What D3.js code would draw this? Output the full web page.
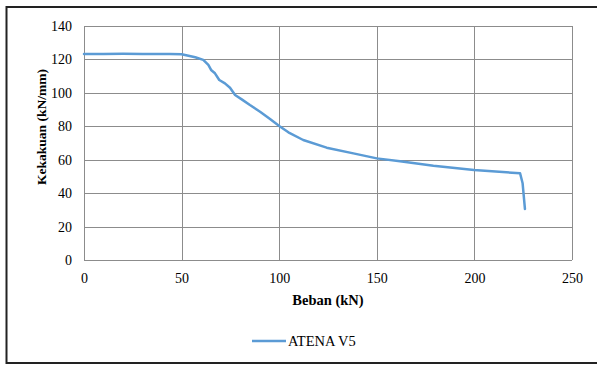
<!DOCTYPE html>
<html>
<head>
<meta charset="utf-8">
<script src="https://cdn.jsdelivr.net/npm/d3@7"></script>
<style>
  html, body { margin: 0; padding: 0; background: #fff; }
  svg { display: block; }
</style>
</head>
<body>
<svg id="chart" width="597" height="365"></svg>
<script>
// Load (kN) vs stiffness (kN/mm), ATENA V5 run
const beban = [0, 10, 20, 30, 44, 50, 57, 61.1, 63.7, 65.1, 67.1, 69.3, 72.2, 74.8, 77.4, 80.8, 85, 90.2, 95.3, 100.2, 104.7, 112.3, 124.3, 138, 150, 161.9, 179, 199.8, 223.4, 224.7, 225.9];
const kekakuan = [123.3, 123.3, 123.4, 123.3, 123.3, 123.1, 121.3, 119.7, 116.7, 113.7, 111.7, 107.7, 105.7, 103.1, 98.7, 96.1, 92.7, 88.7, 84.4, 80.0, 76.4, 71.8, 67.2, 63.8, 60.8, 59.1, 56.4, 53.8, 51.9, 45.9, 30.5];
const xTicks = [0, 50, 100, 150, 200, 250];
const yTicks = [0, 20, 40, 60, 80, 100, 120, 140];
const seriesName = "ATENA V5";
const xTitle = "Beban (kN)";
const yTitle = "Kekakuan (kN/mm)";

const FONT = "'Liberation Serif', 'Times New Roman', serif";
const svg = d3.select("#chart");
const lineColor = "#5b9bd5";
const gridColor = "#8c8c8c";

// Outer chart frame
svg.append("rect")
  .attr("x", 6.5).attr("y", 7).attr("width", 600).attr("height", 356)
  .attr("fill", "none").attr("stroke", "#222").attr("stroke-width", 2);

const x = d3.scaleLinear().domain([0, 250]).range([84, 572]);
const y = d3.scaleLinear().domain([0, 140]).range([260, 26]);

// Gridlines
svg.append("g").selectAll("line").data(yTicks).join("line")
  .attr("x1", x(0)).attr("x2", x(250))
  .attr("y1", d => Math.round(y(d)) + 0.5).attr("y2", d => Math.round(y(d)) + 0.5)
  .attr("stroke", gridColor).attr("stroke-width", 1);
svg.append("g").selectAll("line").data(xTicks).join("line")
  .attr("y1", y(0)).attr("y2", y(140))
  .attr("x1", d => Math.round(x(d)) + 0.5).attr("x2", d => Math.round(x(d)) + 0.5)
  .attr("stroke", gridColor).attr("stroke-width", 1);

// Axes (labels only; lines come from the grid)
const xAxis = svg.append("g").attr("transform", `translate(0,${y(0)})`)
  .call(d3.axisBottom(x).tickValues(xTicks).tickSize(0).tickPadding(13));
const yAxis = svg.append("g").attr("transform", `translate(${x(0)},0)`)
  .call(d3.axisLeft(y).tickValues(yTicks).tickSize(0).tickPadding(12));
[xAxis, yAxis].forEach(g => {
  g.attr("font-family", null).attr("font-size", null);
  g.select(".domain").remove();
  g.selectAll("text").style("font-family", FONT).style("font-size", "14px").attr("fill", "#000");
});

// Axis titles
svg.append("text")
  .attr("x", x(125)).attr("y", 305)
  .attr("text-anchor", "middle")
  .style("font-family", FONT).style("font-size", "14.5px").style("font-weight", "bold")
  .text(xTitle);
svg.append("text")
  .attr("transform", `translate(46,${(y(0) + y(140)) / 2 - 16}) rotate(-90)`)
  .attr("text-anchor", "middle")
  .style("font-family", FONT).style("font-size", "13.5px").style("font-weight", "bold")
  .text(yTitle);

// Series line
const pts = beban.map((b, i) => [b, kekakuan[i]]);
svg.append("path")
  .datum(pts)
  .attr("fill", "none").attr("stroke", lineColor).attr("stroke-width", 2.5)
  .attr("stroke-linejoin", "round").attr("stroke-linecap", "round")
  .attr("d", d3.line().x(d => x(d[0])).y(d => y(d[1])));

// Legend
const lg = svg.append("g");
lg.append("line").attr("x1", 252).attr("x2", 286).attr("y1", 341).attr("y2", 341)
  .attr("stroke", lineColor).attr("stroke-width", 2.5);
lg.append("text").attr("x", 288).attr("y", 346)
  .style("font-family", FONT).style("font-size", "14.5px")
  .text(seriesName);
</script>
</body>
</html>
